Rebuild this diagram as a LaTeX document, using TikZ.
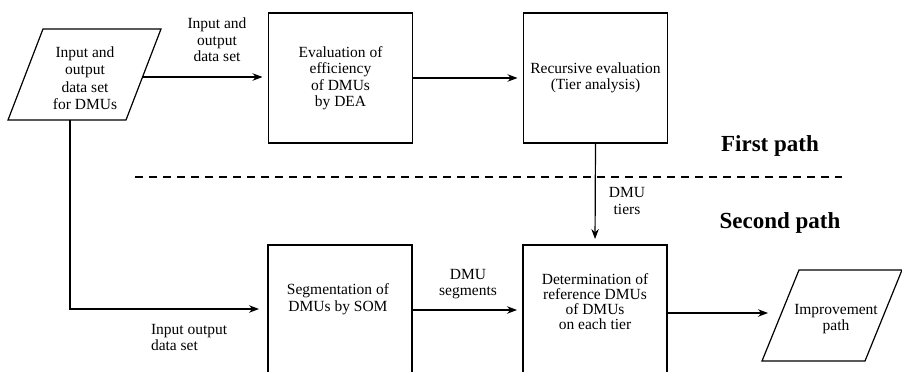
\documentclass[tikz,border=0pt]{standalone}
\usepackage{fontspec}
\setmainfont{Liberation Serif}
\usetikzlibrary{arrows.meta}
\begin{document}
\begin{tikzpicture}[x=1pt,y=-1pt,
  every node/.style={inner sep=0pt, outer sep=0pt},
  txt/.style={align=center, font=\fontsize{15.5}{16.5}\selectfont},
  box/.style={draw, line width=1.2pt, minimum width=144pt, minimum height=130pt},
  openbox/.style={draw, line width=1.2pt, minimum width=144pt, minimum height=155pt},
  shapeline/.style={line width=1.2pt, line join=miter},
  conn/.style={line width=1.2pt, -{Stealth[length=10pt,width=7.5pt]}, shorten >=6pt},
  heading/.style={font=\fontsize{23}{26}\selectfont\bfseries, anchor=base},
  divider/.style={line width=1.2pt, dash pattern=on 8pt off 6pt}]
\clip (0,0) rectangle (902,372);
\fill[white] (0,0) rectangle (902,372);

% input parallelogram
\draw[shapeline] (43,29) -- (161,29) -- (126,120) -- (8,120) -- cycle;
\node[txt, font=\fontsize{15.5}{17.5}\selectfont] (intext) at (85,78) {Input and\\output\\data set\\for DMUs};
\coordinate (inright) at (143,77);
\coordinate (inbottom) at (70,120);

% boxes
\node[box, txt] (eval) at (340.5,78) {Evaluation of\\efficiency\\of DMUs\\by DEA};
\node[box, txt] (recur) at (595.5,78) {Recursive evaluation\\(Tier analysis)};
\node[openbox] (seg) at (340,322.5) {};
\node[txt] (segtext) at (338,299) {Segmentation of\\DMUs by SOM};
\node[openbox] (det) at (595,322.5) {};
\node[txt, font=\fontsize{15.5}{15}\selectfont] (dettext) at (595,302) {Determination of\\reference DMUs\\of DMUs\\on each tier};

% output parallelogram
\draw[shapeline] (799,270) -- (902,270) -- (865,361) -- (762,361) -- cycle;
\node[txt] (outtext) at (836,319) {Improvement\\path};
\coordinate (outleft) at (781,313);

% divider and headings
\draw[divider] (135,177) -- (842,177);
\node[heading] (first) at (770,151) {First path};
\node[heading] (second) at (780,228) {Second path};

% connectors
\draw[conn] (inright) -- (inright -| eval.west);
\draw[conn] (eval.east) -- (recur.west);
\draw[conn] (recur.south) -- (det.north);
\draw[conn, shorten >=9pt] (inbottom) |- ([yshift=13.5pt]seg.west);
\draw[conn] ([yshift=12.5pt]seg.east) -- ([yshift=12.5pt]det.west);
\draw[conn, shorten >=13pt] ([yshift=9.5pt]det.east) -- (outleft);

% connector labels
\node[txt] (lbl1) at (217,40) {Input and\\output\\data set};
\node[txt] (lbl2) at (627,201) {DMU\\tiers};
\node[txt] (lbl3) at (468,284) {DMU\\segments};
\node[txt, align=left, anchor=west] (lbl4) at (151,337.5) {Input output\\data set};
\end{tikzpicture}
\end{document}
